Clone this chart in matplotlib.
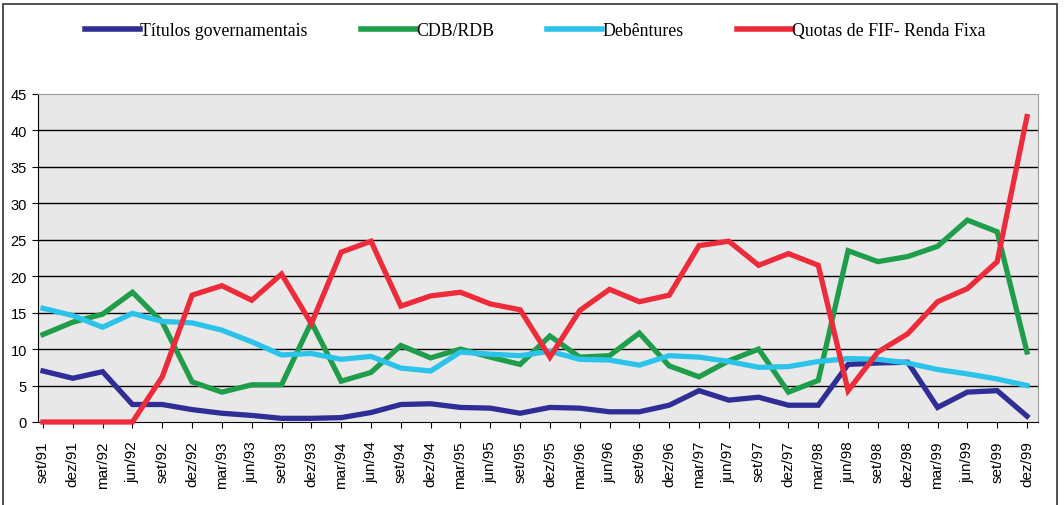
import matplotlib
matplotlib.use("Agg")
import matplotlib.pyplot as plt
from matplotlib.patches import Rectangle

# quarters set/91 .. dez/99
labels = ["set/91", "dez/91"]
for ano in range(92, 100):
    for m in ["mar", "jun", "set", "dez"]:
        labels.append("%s/%02d" % (m, ano))

titulos = [7.0, 6.0, 6.9, 2.4, 2.4, 1.7, 1.2, 0.9, 0.5, 0.5, 0.6,
           1.3, 2.4, 2.5, 2.0, 1.9, 1.2, 2.0, 1.9, 1.4, 1.4, 2.3,
           4.3, 3.0, 3.4, 2.3, 2.3, 7.9, 8.1, 8.2, 2.0, 4.1, 4.3, 0.8]
cdb = [12.0, 13.7, 14.8, 17.8, 13.7, 5.5, 4.1, 5.1, 5.1, 13.7, 5.6,
       6.8, 10.5, 8.8, 10.0, 8.9, 7.9, 11.8, 8.9, 9.1, 12.2, 7.7,
       6.2, 8.4, 10.0, 4.1, 5.7, 23.5, 22.0, 22.7, 24.1, 27.7, 26.1, 9.6]
debentures = [15.6, 14.6, 13.0, 14.9, 13.8, 13.6, 12.6, 11.0, 9.2, 9.4, 8.6,
              9.0, 7.4, 7.0, 9.6, 9.3, 9.1, 9.7, 8.6, 8.5, 7.8, 9.1,
              8.9, 8.3, 7.5, 7.6, 8.3, 8.7, 8.6, 8.1, 7.2, 6.6, 5.9, 5.0]
quotas = [0, 0, 0, 0, 6.2, 17.4, 18.7, 16.7, 20.3, 13.5, 23.3,
          24.8, 15.9, 17.3, 17.8, 16.2, 15.4, 8.9, 15.3, 18.2, 16.5, 17.4,
          24.2, 24.8, 21.5, 23.1, 21.5, 4.3, 9.6, 12.1, 16.5, 18.3, 22.0, 41.9]

series = [
    ("Títulos governamentais", titulos, "#2e2e96"),
    ("CDB/RDB", cdb, "#1f9d4a"),
    ("Debêntures", debentures, "#2cc3ea"),
    ("Quotas de FIF- Renda Fixa", quotas, "#ee2b3b"),
]

W, H = 1064, 506
fig = plt.figure(figsize=(W / 100, H / 100), dpi=100)
fig.patch.set_facecolor("white")

# scanned page frame
fig.patches.append(Rectangle((3 / W, -0.05), (1057 - 3) / W, 1.05 - 5 / H,
                             transform=fig.transFigure, fill=False,
                             edgecolor="#333333", linewidth=1.2))

ax = fig.add_axes([38 / W, 1 - 423 / H, (1038 - 38) / W, (423 - 95) / H])
ax.set_facecolor("#e8e8e8")

x = list(range(len(labels)))

# gridlines
yticks = list(range(0, 50, 5))
for y in yticks[1:-1]:
    ax.axhline(y, color="black", linewidth=1.0, zorder=1)

for name, vals, col in series:
    ax.plot(x, vals, color=col, linewidth=3.8, label=name, zorder=3,
            clip_on=False, solid_joinstyle="miter")

ax.set_xlim(-5 / 29.82, 33 + 11 / 29.82)
ax.set_ylim(0, 45)
ax.set_yticks(yticks)
ax.set_xticks(x)
ax.set_xticklabels(labels, rotation=90, fontsize=11, family="Liberation Sans")
for lab in ax.get_yticklabels():
    lab.set_family("Liberation Sans")
    lab.set_fontsize(10.5)
ax.tick_params(axis="y", length=4, pad=4, color="black")
ax.tick_params(axis="x", length=4, pad=9, color="black")

ax.spines["left"].set_color("black")
ax.spines["bottom"].set_color("black")
ax.spines["top"].set_color("#9a9a9a")
ax.spines["right"].set_color("#9a9a9a")
ax.spines["top"].set_linestyle((0, (2, 1)))

leg = fig.legend(loc="upper left", bbox_to_anchor=(85 / W, 1 - 23 / H),
                 ncol=4, frameon=False, handlelength=3.1, handletextpad=0.0,
                 columnspacing=3.0, borderpad=0, borderaxespad=0,
                 prop={"family": "Liberation Serif", "size": 12.8})
for line in leg.get_lines():
    line.set_linewidth(4)

plt.savefig("out.png", dpi=100)
